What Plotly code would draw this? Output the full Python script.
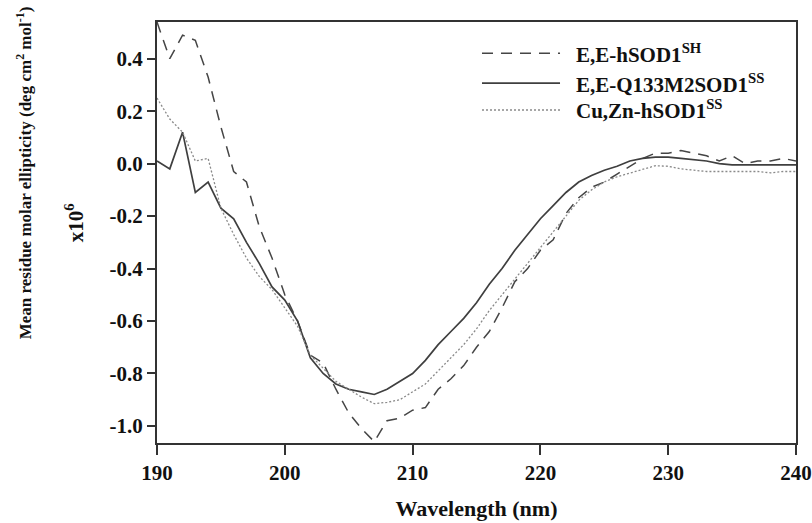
import plotly.graph_objects as go

wavelength = list(range(190, 241))

ee_hsod1_sh = [0.54, 0.40, 0.49, 0.47, 0.33, 0.14, -0.03, -0.07, -0.24, -0.36,
               -0.50, -0.60, -0.73, -0.76, -0.86, -0.95, -1.01, -1.06, -0.98, -0.97,
               -0.94, -0.93, -0.86, -0.82, -0.77, -0.70, -0.64, -0.55, -0.45, -0.40,
               -0.33, -0.29, -0.19, -0.13, -0.09, -0.07, -0.04, -0.01, 0.02, 0.04,
               0.04, 0.05, 0.04, 0.03, 0.01, 0.03, 0.00, 0.01, 0.01, 0.02, 0.01]

ee_q133m2_ss = [0.01, -0.02, 0.12, -0.11, -0.07, -0.17, -0.21, -0.30, -0.38, -0.47,
                -0.52, -0.60, -0.74, -0.80, -0.84, -0.86, -0.87, -0.88, -0.86, -0.83,
                -0.80, -0.75, -0.69, -0.64, -0.59, -0.53, -0.46, -0.40, -0.33, -0.27,
                -0.21, -0.16, -0.11, -0.07, -0.045, -0.025, -0.01, 0.01, 0.02, 0.025,
                0.025, 0.02, 0.015, 0.01, 0.0, -0.005, -0.005, -0.005, -0.005, -0.005, -0.005]

cuzn_hsod1_ss = [0.25, 0.17, 0.12, 0.01, 0.02, -0.17, -0.27, -0.36, -0.43, -0.48,
                 -0.55, -0.62, -0.73, -0.78, -0.83, -0.86, -0.89, -0.915, -0.91, -0.90,
                 -0.87, -0.84, -0.79, -0.74, -0.69, -0.63, -0.56, -0.50, -0.44, -0.38,
                 -0.32, -0.26, -0.20, -0.14, -0.10, -0.07, -0.05, -0.035, -0.02, -0.008,
                 -0.01, -0.02, -0.025, -0.03, -0.03, -0.03, -0.03, -0.03, -0.035, -0.03, -0.03]

series_names = ["E,E-hSOD1<sup>SH</sup>", "E,E-Q133M2SOD1<sup>SS</sup>", "Cu,Zn-hSOD1<sup>SS</sup>"]
x_ticks = [190, 200, 210, 220, 230, 240]
y_ticks = [0.4, 0.2, 0.0, -0.2, -0.4, -0.6, -0.8, -1.0]

FONT = "Liberation Serif"
styles = [
    dict(color="#454545", width=1.5, dash="11px,8px"),
    dict(color="#3f3f3f", width=1.7, dash="solid"),
    dict(color="#8a8a8a", width=1.3, dash="2px,2px"),
]

fig = go.Figure()
for name, ys, st in zip(series_names, [ee_hsod1_sh, ee_q133m2_ss, cuzn_hsod1_ss], styles):
    fig.add_trace(go.Scatter(x=wavelength, y=ys, mode="lines", name=name,
                             line=st, showlegend=False, cliponaxis=True))

# manual legend (long line samples)
leg_y = [0.926, 0.855, 0.791]
for name, st, yy in zip(series_names, styles, leg_y):
    fig.add_shape(type="line", xref="paper", yref="paper", x0=0.5086, x1=0.6307,
                  y0=yy, y1=yy, line=st)
    fig.add_annotation(xref="paper", yref="paper", x=0.652, y=yy, text="<b>" + name + "</b>",
                       showarrow=False, xanchor="left", yanchor="middle",
                       font=dict(family=FONT, size=21, color="#111"))

# y-axis title on two lines
fig.add_annotation(xref="paper", yref="paper", x=-0.208, y=0.641, textangle=-90,
                   text="<b>Mean residue molar ellipticity (deg cm<sup>2</sup> mol<sup>-1</sup>)</b>",
                   showarrow=False, xanchor="center", yanchor="middle",
                   font=dict(family=FONT, size=17, color="#111"))
fig.add_annotation(xref="paper", yref="paper", x=-0.128, y=0.5226, textangle=-90,
                   text="<b>x10<sup>6</sup></b>",
                   showarrow=False, xanchor="center", yanchor="middle",
                   font=dict(family=FONT, size=21, color="#111"))

fig.update_layout(
    width=812, height=523,
    margin=dict(l=157, r=16, t=22, b=80),
    paper_bgcolor="white", plot_bgcolor="white",
    font=dict(family=FONT, size=20, color="#111"),
    xaxis=dict(range=[190, 240], tickvals=x_ticks, ticktext=[f"<b>{v}</b>" for v in x_ticks],
               showgrid=False, zeroline=False, showline=True, linecolor="#333", linewidth=2,
               mirror=True, ticks="outside", ticklen=10, tickwidth=2, tickcolor="#333",
               tickfont=dict(family=FONT, size=21), automargin=False,
               title=dict(text="<b>Wavelength (nm)</b>", font=dict(family=FONT, size=22), standoff=16)),
    yaxis=dict(range=[-1.065, 0.54], tickvals=y_ticks, ticktext=[f"<b>{v:.1f}</b>" for v in y_ticks],
               showgrid=False, zeroline=False, showline=True, linecolor="#333", linewidth=2,
               mirror=True, ticks="outside", ticklen=8, tickwidth=2, tickcolor="#333",
               tickfont=dict(family=FONT, size=21), automargin=False),
)

fig.write_html("out.html")
